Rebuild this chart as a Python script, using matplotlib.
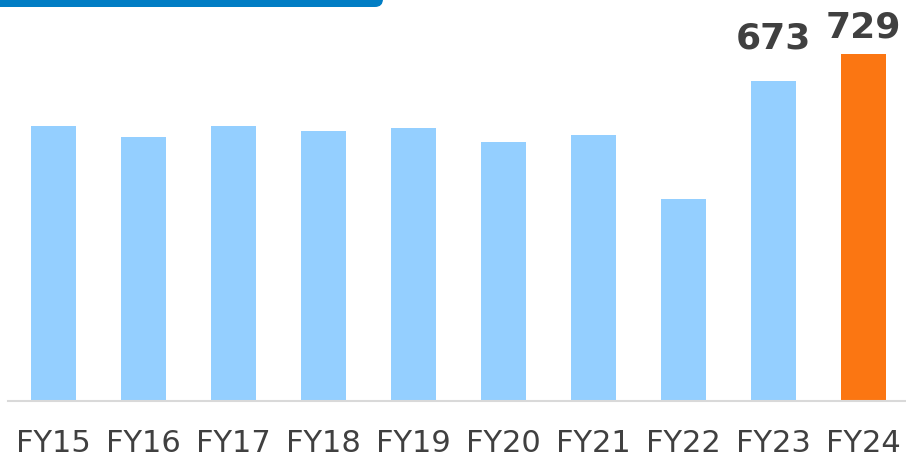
import matplotlib
matplotlib.use("Agg")
import matplotlib.pyplot as plt
from matplotlib.patches import FancyBboxPatch

# data
years = ["FY15", "FY16", "FY17", "FY18", "FY19", "FY20", "FY21", "FY22", "FY23", "FY24"]
values = [577, 555, 577, 568, 574, 545, 558, 425, 673, 729]
labelled = ["FY23", "FY24"]

light_blue = "#94CFFF"
orange = "#FB7612"
text_col = "#404040"

fig = plt.figure(figsize=(9.06, 4.6), dpi=100)
ax = fig.add_axes([8 / 906, 58.5 / 460, 898 / 906, 401.5 / 460])

colors = [orange if y == "FY24" else light_blue for y in years]
x = list(range(len(years)))
bars = ax.bar(x, values, width=0.5, color=colors, zorder=2)

# value labels on the last two bars
offsets = {"FY23": 26, "FY24": 11}
for xi, y, v in zip(x, years, values):
    if y in labelled:
        ax.annotate(f"{v}", (xi, v), xytext=(0, offsets[y] * 0.72), textcoords="offset points",
                    ha="center", va="bottom", fontsize=26, fontweight="bold", color=text_col)

ax.set_xlim(-0.5056, 9.472)
ax.set_ylim(0, 845)
ax.set_xticks(x)
ax.set_xticklabels(years, fontsize=22, color=text_col)
ax.tick_params(axis="x", length=0, pad=20)
ax.set_yticks([])
for side in ["top", "left", "right"]:
    ax.spines[side].set_visible(False)
ax.spines["bottom"].set_color("#d9d9d9")
ax.spines["bottom"].set_linewidth(1.5)
ax.spines["bottom"].set_zorder(3)

# blue header strip at top-left
banner = FancyBboxPatch((-0.2, 4.52), 4.03, 0.4, boxstyle="round,pad=0,rounding_size=0.08",
                        transform=fig.dpi_scale_trans, facecolor="#017DC4", edgecolor="none")
fig.patches.append(banner)

fig.savefig("out.png", dpi=100)
